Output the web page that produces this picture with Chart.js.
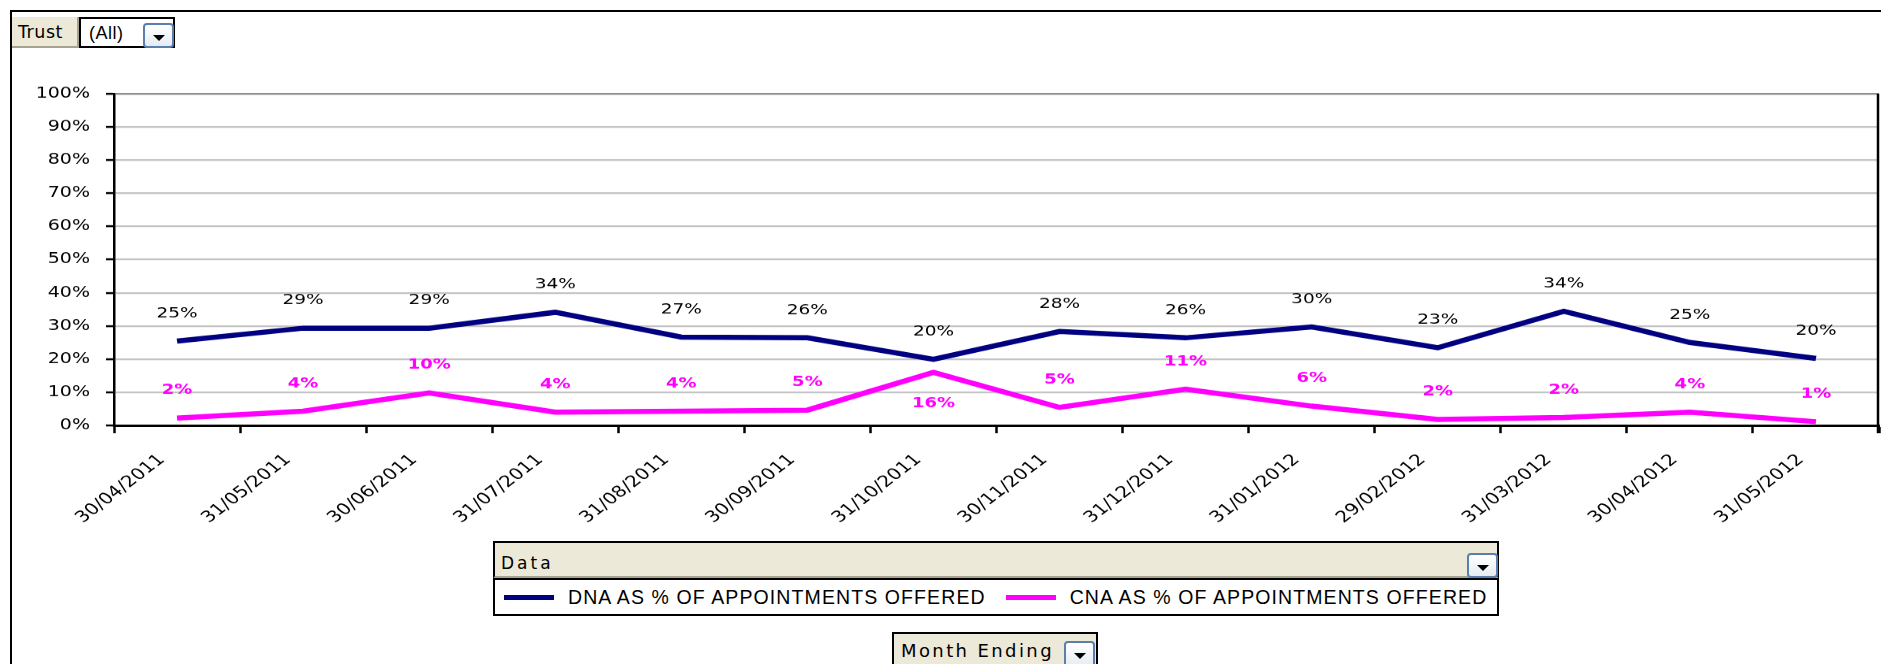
<!DOCTYPE html>
<html>
<head>
<meta charset="utf-8">
<script src="https://cdn.jsdelivr.net/npm/chart.js@4"></script>
<style>
  body { margin: 0; background: #fff; }
  #wrap { position: relative; width: 1881px; height: 664px; overflow: hidden; font-family: "DejaVu Sans", sans-serif; }
  #chart { position: absolute; left: 0; top: 0; }
  #frame { position: absolute; left: 10px; top: 10px; width: 1900px; height: 700px; border-left: 2px solid #000; border-top: 2px solid #000; }
  .field { position: absolute; background: #ece9d8; color: #000; font-size: 17.5px; box-sizing: border-box; white-space: nowrap; }
  .drop { position: absolute; width: 31px; height: 25px; box-sizing: border-box; border: 2px solid #5a7fae; border-radius: 4px; background: linear-gradient(#ffffff, #e6ecf4); }
  .drop::after { content: ""; position: absolute; left: 8px; top: 10px; border-left: 6px solid transparent; border-right: 6px solid transparent; border-top: 6px solid #000; }
  #legend { position: absolute; left: 493px; top: 578px; width: 1006px; height: 38px; box-sizing: border-box; border: 2px solid #000; background: #fff; display: flex; align-items: center; padding-left: 9px; font-family: "Liberation Sans", sans-serif; }
  .item { display: flex; align-items: center; margin-right: 20px; font-size: 19.5px; letter-spacing: 1.1px; white-space: nowrap; }
  .swatch { width: 50px; height: 5px; margin-right: 14px; }
</style>
</head>
<body>
<div id="wrap">
  <canvas id="chart" width="1881" height="843" style="width:1881px;height:664px"></canvas>
  <div id="frame"></div>

  <div class="field" style="left:12px;top:17px;width:67px;height:31px;line-height:31px;padding-left:6px;letter-spacing:0.5px;border-right:2px solid #a7a38f;border-bottom:2px solid #a7a38f;">Trust</div>
  <div class="field" style="left:79px;top:17px;width:96px;height:31px;line-height:29px;padding-left:8px;background:#fff;border:2px solid #000;font-family:'Liberation Sans';font-size:18px;letter-spacing:0.5px;">(All)</div>
  <div class="drop" style="left:143px;top:23px;"></div>

  <div class="field" style="left:493px;top:541px;width:1006px;height:38px;line-height:40px;padding-left:6px;border:2px solid #000;border-bottom:3px solid #a7a38f;font-size:17px;letter-spacing:3px;">Data</div>
  <div class="drop" style="left:1467px;top:553px;"></div>
  <div id="legend"></div>

  <div class="field" style="left:892px;top:632px;width:206px;height:40px;line-height:34px;padding-left:7px;border:2px solid #000;font-size:18px;letter-spacing:2.4px;">Month Ending</div>
  <div class="drop" style="left:1064px;top:641px;height:27px;"></div>
</div>

<script>
// month ending dates (x axis)
const months = ['30/04/2011', '31/05/2011', '30/06/2011', '31/07/2011', '31/08/2011', '30/09/2011', '31/10/2011',
                '30/11/2011', '31/12/2011', '31/01/2012', '29/02/2012', '31/03/2012', '30/04/2012', '31/05/2012'];

// DNA and CNA as % of appointments offered
const dnaPct = [25.4, 29.3, 29.3, 34.1, 26.6, 26.4, 19.9, 28.3, 26.4, 29.7, 23.4, 34.4, 25.0, 20.2];
const cnaPct = [2.2, 4.3, 9.8, 4.0, 4.3, 4.6, 16.0, 5.4, 10.9, 5.8, 1.8, 2.4, 4.0, 1.1];

// y axis ticks, in percent
const yTicks = [0, 10, 20, 30, 40, 50, 60, 70, 80, 90, 100];

// canvas is drawn taller and squashed to 664px, like the stretched original
const K = 843 / 664;
const areaTop = Math.round(94 * K);
const areaBottom = Math.round(425 * K);

// draws the % value next to every point
const pointLabels = {
  id: 'pointLabels',
  afterDatasetsDraw(chart) {
    const ctx = chart.ctx;
    const all = chart.data.datasets;
    all.forEach((ds, i) => {
      const meta = chart.getDatasetMeta(i);
      meta.data.forEach((pt, j) => {
        const v = ds.data[j];
        // put the label under the point if the other line is just above it
        const crowded = all.some((o, k) => k !== i && o.data[j] > v && o.data[j] - v < 8);
        const y = crowded ? pt.y + 40 : pt.y - 35;
        ctx.save();
        ctx.font = ds.labelFont;
        ctx.fillStyle = ds.labelColor;
        ctx.textAlign = 'center';
        ctx.textBaseline = 'middle';
        ctx.fillText(Math.round(v) + '%', pt.x, y);
        ctx.restore();
      });
    });
  }
};

// right edge of the plot area
const plotEdge = {
  id: 'plotEdge',
  afterDraw(chart) {
    const a = chart.chartArea;
    const ctx = chart.ctx;
    ctx.save();
    ctx.strokeStyle = '#000';
    ctx.lineWidth = 2.5;
    ctx.beginPath();
    ctx.moveTo(a.right - 1, a.top);
    ctx.lineTo(a.right - 1, a.bottom + 10);
    ctx.stroke();
    ctx.restore();
  }
};

const chart = new Chart(document.getElementById('chart'), {
  type: 'line',
  data: {
    labels: months,
    datasets: [
      {
        label: 'DNA AS % OF APPOINTMENTS OFFERED',
        data: dnaPct,
        borderColor: '#000080',
        backgroundColor: '#000080',
        borderWidth: 6.5,
        pointRadius: 0,
        tension: 0,
        labelColor: '#000',
        labelFont: '18.5px "DejaVu Sans"'
      },
      {
        label: 'CNA AS % OF APPOINTMENTS OFFERED',
        data: cnaPct,
        borderColor: '#ff00ff',
        backgroundColor: '#ff00ff',
        borderWidth: 6.5,
        pointRadius: 0,
        tension: 0,
        labelColor: '#ff00ff',
        labelFont: 'bold 18px "DejaVu Sans"'
      }
    ]
  },
  options: {
    responsive: false,
    animation: false,
    devicePixelRatio: 1,
    layout: { padding: { top: areaTop, left: 0, right: 2, bottom: 0 } },
    plugins: {
      legend: { display: false },
      tooltip: { enabled: false }
    },
    scales: {
      x: {
        offset: true,
        grid: { offset: true, drawOnChartArea: false, tickLength: 10, tickColor: '#000', tickWidth: 2.5 },
        border: { color: '#000', width: 3 },
        ticks: {
          autoSkip: false,
          minRotation: 44,
          maxRotation: 44,
          padding: 22,
          labelOffset: -15,
          color: '#000',
          font: { family: 'DejaVu Sans', size: 20 }
        },
        afterFit: s => { s.height = 843 - areaBottom; }
      },
      y: {
        min: 0,
        max: 100,
        afterBuildTicks: s => { s.ticks = yTicks.map(v => ({ value: v })); },
        grid: {
          color: c => (c.tick && c.tick.value === 100 ? '#8c8c8c' : '#c4c4c4'),
          lineWidth: 2.2,
          tickLength: 8,
          tickColor: '#000',
          tickWidth: 2.5
        },
        border: { color: '#000', width: 2.5 },
        ticks: {
          padding: 16,
          color: '#000',
          font: { family: 'DejaVu Sans', size: 19 },
          callback: v => v + '%'
        },
        afterFit: s => { s.width = 114; }
      }
    }
  },
  plugins: [pointLabels, plotEdge]
});

// legend rows built from the datasets
const legend = document.getElementById('legend');
chart.data.datasets.forEach(ds => {
  const item = document.createElement('div');
  item.className = 'item';
  const sw = document.createElement('span');
  sw.className = 'swatch';
  sw.style.background = ds.borderColor;
  item.appendChild(sw);
  item.appendChild(document.createTextNode(ds.label));
  legend.appendChild(item);
});
</script>
</body>
</html>
